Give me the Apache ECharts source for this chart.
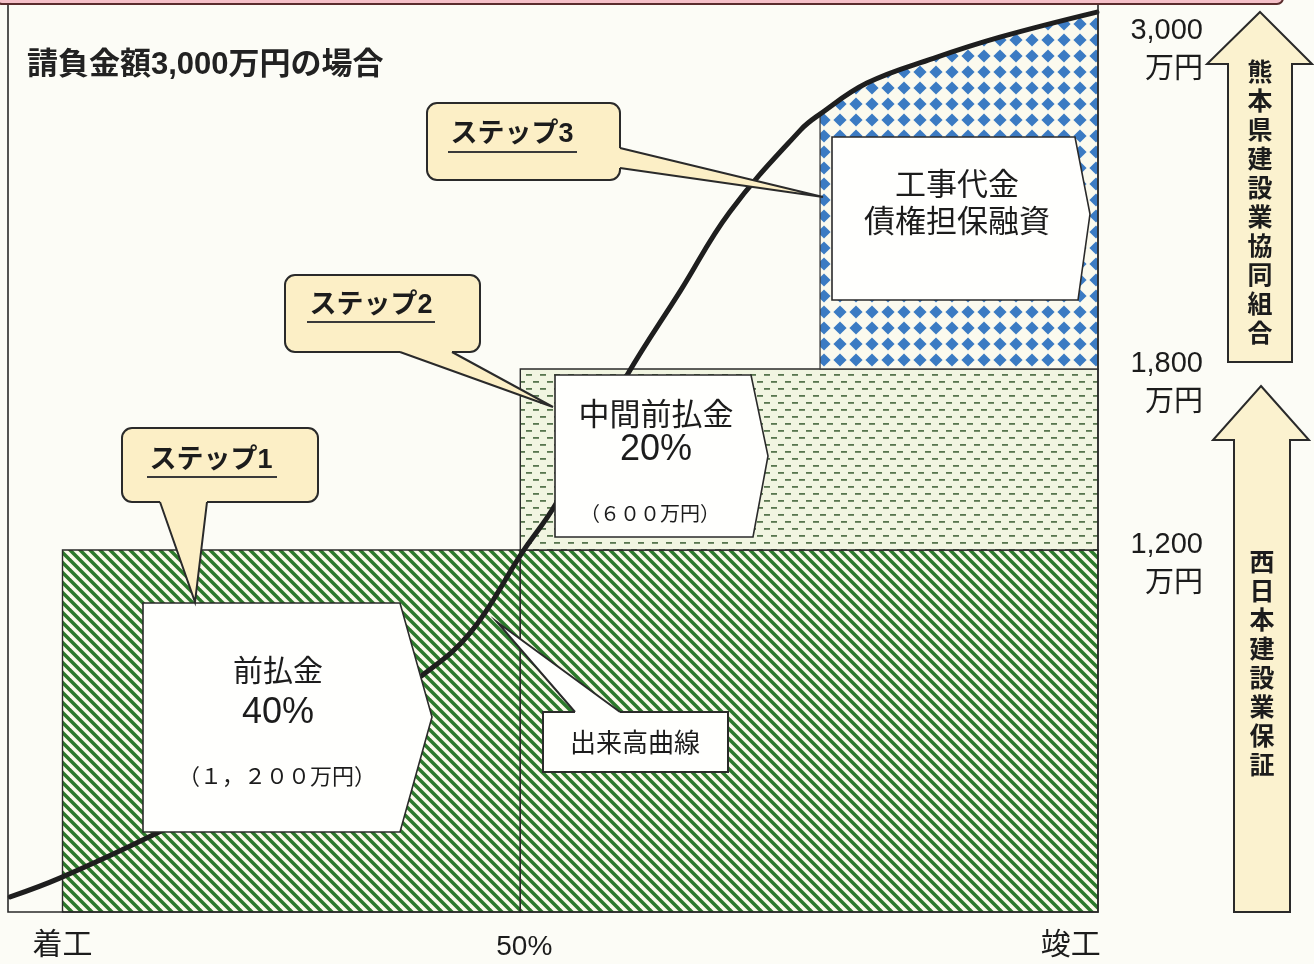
<!DOCTYPE html>
<html><head><meta charset="utf-8">
<script src="https://cdn.jsdelivr.net/npm/echarts@6/dist/echarts.min.js"></script>
<style>html,body{margin:0;padding:0;background:#fcfcf6;}#c{width:1314px;height:964px;}</style>
</head><body><div id="c"></div>
<script>
// ---------------- data ----------------
const titleText = '請負金額3,000万円の場合';
// 出来高曲線 (x: 工期の進捗 0-100 schematic, y: 万円)
const progressX = [0.2, 4.8, 13.3, 22.2, 30.5, 37.8, 42.4, 47.2, 50.2, 56.8, 61.7, 66.2, 72.7, 74.5, 78.8, 84.9, 91.0, 99.9];
const progressY = [50, 113, 255, 421, 597, 779, 925, 1193, 1349, 1780, 2060, 2320, 2592, 2645, 2748, 2830, 2900, 2983];
// 工事代金債権担保融資 area (above 1,800万円, right part of curve)
const loanX = [74.5, 78.8, 84.9, 91.0, 99.9];
const loanY = [2645, 2748, 2830, 2900, 2983];
const loanBase = 1800;
const loanRight = 100;
// blocks: 前払金 (two halves) and 中間前払金
const blockNames = ['前払金', '前払金', '中間前払金'];
const blockX0 = [5, 47, 47];
const blockX1 = [47, 100, 100];
const blockY0 = [0, 0, 1200];
const blockY1 = [1200, 1200, 1800];
const blockPattern = [0, 0, 1];
// tick labels
const xTickPos = [5, 47, 97.5];
const xTickLabels = ['着工', '50%', '竣工'];
const yTickValues = [3000, 1800, 1200];
const yTickLabels = ['3,000', '1,800', '1,200'];
const yTickUnit = '万円';

// ---------------- patterns ----------------
function makeHatch() {
  const c = document.createElement('canvas'); c.width = 10; c.height = 10;
  const g = c.getContext('2d');
  g.fillStyle = '#fafae9'; g.fillRect(0, 0, 10, 10);
  g.strokeStyle = '#2c782b'; g.lineWidth = 3.5;
  for (const k of [-10, 0, 10]) { g.beginPath(); g.moveTo(k - 2, -2); g.lineTo(k + 12, 12); g.stroke(); }
  return c;
}
function makeDash() {
  const c = document.createElement('canvas'); c.width = 14; c.height = 14;
  const g = c.getContext('2d');
  g.fillStyle = '#f1f5e1'; g.fillRect(0, 0, 14, 14);
  g.fillStyle = '#58764f';
  g.fillRect(1, 3, 6, 1.8);
  g.fillRect(8, 10, 6, 1.8);
  return c;
}
function makeDiamond() {
  const c = document.createElement('canvas'); c.width = 16; c.height = 16;
  const g = c.getContext('2d');
  g.fillStyle = '#fbfaee'; g.fillRect(0, 0, 16, 16);
  g.fillStyle = '#3b7bc3';
  const h = 6.6, cx = 8, cy = 8;
  g.beginPath(); g.moveTo(cx, cy - h); g.lineTo(cx + h, cy); g.lineTo(cx, cy + h); g.lineTo(cx - h, cy); g.closePath(); g.fill();
  return c;
}
const patterns = [
  { image: makeHatch(), repeat: 'repeat' },
  { image: makeDash(), repeat: 'repeat' }
];
const diamondPattern = { image: makeDiamond(), repeat: 'repeat' };

// ---------------- styles ----------------
const CJK = '"Noto Sans CJK JP", "Noto Sans", sans-serif';
const LAT = '"Liberation Sans", Arial, "Noto Sans CJK JP", sans-serif';
const INK = '#1c1c1c';
const LINE = '#2a2a2a';
const STEPFILL = '#fcefc6';
const ARROWFILL = '#fbf2cf';

const chart = echarts.init(document.getElementById('c'), null, { renderer: 'canvas' });

function callout(rect, rr, b1, b2, tip, d, fill) {
  const els = [];
  els.push({ type: 'rect', z: 30, shape: { x: rect[0], y: rect[1], width: rect[2], height: rect[3], r: rr },
    style: { fill: fill, stroke: LINE, lineWidth: 2 } });
  els.push({ type: 'polygon', z: 31, shape: { points: [[b1[0] - d[0] * 3, b1[1] - d[1] * 3], b1, tip, b2, [b2[0] - d[0] * 3, b2[1] - d[1] * 3]] },
    style: { fill: fill } });
  els.push({ type: 'polyline', z: 32, shape: { points: [b1, tip, b2] },
    style: { stroke: LINE, lineWidth: 2, fill: null } });
  return els;
}
function stepLabel(text, cx, cy, ux0, ux1, uy) {
  return [
    { type: 'text', z: 33, x: cx, y: cy, style: { text: text, font: 'bold 27px ' + LAT, fill: INK, align: 'center', verticalAlign: 'middle' } },
    { type: 'line', z: 33, shape: { x1: ux0, y1: uy, x2: ux1, y2: uy }, style: { stroke: '#3a3a3a', lineWidth: 2 } }
  ];
}
function txt(text, x, y, font, align) {
  return { type: 'text', z: 36, x: x, y: y, style: { text: text, font: font, fill: INK, align: align || 'center', verticalAlign: 'middle' } };
}
function pent(pts) {
  return { type: 'polygon', z: 20, shape: { points: pts }, style: { fill: '#fffffd', stroke: LINE, lineWidth: 1.6 } };
}

const graphics = [].concat(
  // frame & top band
  [{ type: 'rect', z: 15, shape: { x: 8, y: 4, width: 1090, height: 908 }, style: { fill: null, stroke: LINE, lineWidth: 1.6 } },
   { type: 'rect', z: 16, shape: { x: -4, y: -12, width: 1287, height: 16, r: [0, 0, 6, 6] }, style: { fill: '#f5c0c8', stroke: '#5a2d2d', lineWidth: 2 } }],
  // title
  [{ type: 'text', z: 25, x: 27, y: 65, style: { text: titleText, font: 'bold 31px ' + LAT, fill: '#222', align: 'left', verticalAlign: 'middle' } }],
  // value boxes
  [pent([[143, 603], [400, 603], [432, 717], [400, 832], [143, 832]]),
   txt('前払金', 278, 670, '30px ' + CJK),
   txt('40%', 278, 713, '36px ' + LAT),
   txt('（１，２００万円）', 277, 776, '22px ' + CJK),
   pent([[555, 375], [751, 375], [768, 456], [753, 537], [555, 537]]),
   txt('中間前払金', 656, 413, '31px ' + CJK),
   txt('20%', 656, 450, '36px ' + LAT),
   txt('（６００万円）', 650, 513, '20px ' + CJK),
   pent([[832, 137], [1075, 137], [1090, 214], [1078, 300], [832, 300]]),
   txt('工事代金', 957, 183, '31px ' + CJK),
   txt('債権担保融資', 957, 220, '31px ' + CJK)],
  // 出来高曲線 label
  callout([543, 712, 185, 60], 0, [575, 712], [620, 712], [497, 622], [0, -1], '#fffffd'),
  [txt('出来高曲線', 635, 742, '26px ' + CJK)],
  // step callouts
  callout([122, 428, 196, 74], 10, [160, 502], [207, 502], [195, 602], [0, 1], STEPFILL),
  stepLabel('ステップ1', 211, 461, 147, 277, 477),
  callout([285, 275, 195, 77], 10, [400, 352], [452, 352], [553, 407], [0, 1], STEPFILL),
  stepLabel('ステップ2', 371, 306, 307, 435, 322),
  callout([427, 103, 193, 77], 10, [620, 148], [620, 168], [823, 197], [1, 0], STEPFILL),
  stepLabel('ステップ3', 512, 135, 448, 577, 152),
  // right arrows
  [{ type: 'polygon', z: 20, shape: { points: [[1260, 12], [1312, 64], [1292, 64], [1292, 362], [1228, 362], [1228, 64], [1207, 64]] },
     style: { fill: ARROWFILL, stroke: LINE, lineWidth: 2 } },
   { type: 'text', z: 25, x: 1260, y: 202, style: { text: '熊本県建設業協同組合'.split('').join('\n'), font: 'bold 25px ' + CJK, lineHeight: 29, fill: INK, align: 'center', verticalAlign: 'middle' } },
   { type: 'polygon', z: 20, shape: { points: [[1261, 386], [1309, 440], [1290, 440], [1290, 912], [1234, 912], [1234, 440], [1213, 440]] },
     style: { fill: ARROWFILL, stroke: LINE, lineWidth: 2 } },
   { type: 'text', z: 25, x: 1262, y: 663, style: { text: '西日本建設業保証'.split('').join('\n'), font: 'bold 25px ' + CJK, lineHeight: 29, fill: INK, align: 'center', verticalAlign: 'middle' } }]
);

const option = {
  animation: false,
  backgroundColor: '#fcfcf6',
  grid: { left: 8, right: 216, top: 7, bottom: 52, containLabel: false },
  xAxis: { type: 'value', min: 0, max: 100, show: false },
  yAxis: { type: 'value', min: 0, max: 3000, show: false },
  graphic: { elements: graphics },
  series: [
    { // hatched blocks
      type: 'custom', z: 1, silent: true,
      data: blockX0.map((x, i) => [x, blockX1[i], blockY0[i], blockY1[i], blockPattern[i]]),
      renderItem: function (params, api) {
        const a = api.coord([api.value(0), api.value(3)]);
        const b = api.coord([api.value(1), api.value(2)]);
        return { type: 'rect', shape: { x: a[0], y: a[1], width: b[0] - a[0], height: b[1] - a[1] },
          style: { fill: patterns[api.value(4)], stroke: LINE, lineWidth: 1.4 } };
      }
    },
    { // 債権担保融資 area
      type: 'custom', z: 1, silent: true,
      data: [[0]],
      renderItem: function (params, api) {
        const pts = [api.coord([loanX[0], loanBase])];
        loanX.forEach((x, i) => pts.push(api.coord([x, loanY[i]])));
        pts.push(api.coord([loanRight, loanY[loanY.length - 1]]));
        pts.push(api.coord([loanRight, loanBase]));
        return { type: 'polygon', shape: { points: pts }, style: { fill: diamondPattern, stroke: '#3c3c3c', lineWidth: 1.3 } };
      }
    },
    { // 出来高曲線
      type: 'line', z: 4, silent: true,
      data: progressX.map((x, i) => [x, progressY[i]]),
      smooth: 0.4, showSymbol: false, symbol: 'none',
      lineStyle: { color: '#1e1e1e', width: 5, cap: 'round' }
    },
    { // x tick labels
      type: 'custom', z: 4, silent: true, clip: false,
      data: xTickPos.map((x, i) => [x, i]),
      renderItem: function (params, api) {
        const p = api.coord([api.value(0), 0]);
        const lab = xTickLabels[api.value(1)];
        const isNum = /\d/.test(lab);
        return { type: 'text', x: p[0] + (isNum ? 4 : 0), y: p[1] + (isNum ? 35 : 31),
          style: { text: lab, font: (isNum ? '28px ' + LAT : '30px ' + CJK), fill: INK, align: 'center', verticalAlign: 'middle' } };
      }
    },
    { // y value labels (right side)
      type: 'custom', z: 4, silent: true, clip: false,
      data: yTickValues.map((v, i) => [100, v, i]),
      renderItem: function (params, api) {
        const p = api.coord([api.value(0), api.value(1)]);
        const i = api.value(2);
        const top = Math.max(p[1] - 20, 16);
        return { type: 'group', children: [
          { type: 'text', x: p[0] + 105, y: top, style: { text: yTickLabels[i], font: '29px ' + LAT, fill: INK, align: 'right', verticalAlign: 'top' } },
          { type: 'text', x: p[0] + 105, y: top + 36, style: { text: yTickUnit, font: '29px ' + CJK, fill: INK, align: 'right', verticalAlign: 'top' } }
        ] };
      }
    }
  ]
};
chart.setOption(option);
</script>
</body></html>
